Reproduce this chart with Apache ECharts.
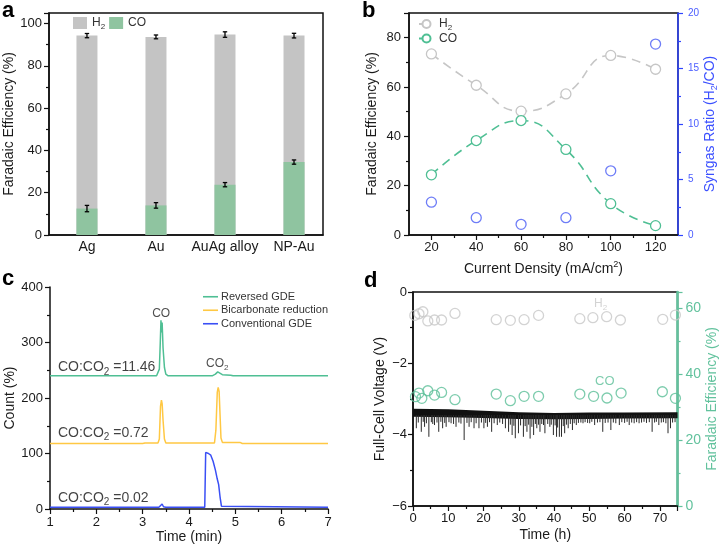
<!DOCTYPE html>
<html><head><meta charset="utf-8">
<script src="https://cdn.jsdelivr.net/npm/echarts@6/dist/echarts.min.js"></script>
<style>html,body{margin:0;padding:0;background:#fff}#c{width:720px;height:549px}</style>
</head><body><div id="c"></div>
<script>
// ---------- Panel a ----------
const aCategories = ['Ag', 'Au', 'AuAg alloy', 'NP-Au'];
const aCO = [12.5, 14.0, 23.8, 34.5];
const aH2 = [81.8, 79.7, 71.0, 59.8];
const aCOErr = [1.5, 1.3, 1.0, 1.0];
const aTotalErr = [1.0, 0.9, 1.3, 1.1];
const aYTicks = [0, 20, 40, 60, 80, 100];
// ---------- Panel b ----------
const bCurrent = [20, 40, 60, 80, 100, 120];
const bH2 = [73.4, 60.7, 50.2, 57.2, 72.8, 67.2];
const bCO = [24.4, 38.3, 46.4, 34.7, 12.7, 3.8];
const bRatio = [2.96, 1.56, 0.96, 1.56, 5.78, 17.2];
const bXTicks = [20, 40, 60, 80, 100, 120];
const bXMinorTicks = [30, 50, 70, 90, 110];
const bYTicks = [0, 20, 40, 60, 80];
// ---------- Panel c ----------
const cReversed = [[1,240],[3.3,240],[3.34,241],[3.36,252],[3.38,300],[3.395,340],[3.41,318],[3.42,336],[3.44,290],[3.47,255],[3.5,243],[3.55,240],[4.5,240],[4.57,243],[4.62,247],[4.66,245],[4.72,242],[4.9,241],[4.95,240],[7,240]];
const cBicarb = [[1,118],[3.0,118],[3.05,119],[3.33,119],[3.36,126],[3.385,185],[3.405,196],[3.42,190],[3.44,160],[3.47,126],[3.5,119],[4.55,119],[4.58,142],[4.61,210],[4.63,219],[4.65,212],[4.67,170],[4.69,128],[4.72,120],[5.1,120],[5.15,118],[7,118]];
const cConventional = [[1,3],[3.35,3],[3.39,5],[3.42,9],[3.45,4],[3.5,3],[4.34,3],[4.36,102],[4.42,100],[4.47,97],[4.52,86],[4.57,70],[4.61,54],[4.64,44],[4.67,22],[4.7,5],[4.73,3],[7,3]];
const cAnnotations = [
  {t: 3.4, y: 352, text: '{m|CO}', align: 'center'},
  {t: 4.61, y: 261, text: '{m|CO}{ms|2}', align: 'center'},
  {t: 1.17, y: 255, text: '{r|CO:CO}{rs|2}{r| =11.46}', align: 'left'},
  {t: 1.17, y: 137, text: '{r|CO:CO}{rs|2}{r| =0.72}', align: 'left'},
  {t: 1.17, y: 20, text: '{r|CO:CO}{rs|2}{r| =0.02}', align: 'left'}
];
// ---------- Panel d ----------
const dBandUpper = [[0,-3.27],[10,-3.29],[20,-3.33],[30,-3.37],[40,-3.39],[50,-3.38],[60,-3.38],[75,-3.37]];
const dBandLower = [[0,-3.50],[10,-3.51],[20,-3.53],[30,-3.56],[40,-3.57],[50,-3.56],[60,-3.55],[75,-3.54]];
const dSpikes = [[0.94,-3.82],[1.5,-3.66],[2.35,-3.92],[2.9,-3.64],[3.28,-3.78],[3.8,-3.68],[4.5,-4.06],[5.2,-3.65],[5.6,-3.70],[6.1,-3.73],[6.8,-3.66],[7.3,-3.92],[7.9,-3.64],[8.4,-3.82],[9.0,-3.67],[9.4,-3.78],[10.2,-3.65],[10.8,-3.68],[11.5,-3.70],[12.2,-3.78],[13.0,-3.66],[13.6,-3.69],[14.5,-4.15],[15.3,-3.67],[15.9,-3.78],[16.5,-3.65],[17.3,-3.82],[17.9,-3.68],[18.7,-3.82],[19.4,-3.66],[20.1,-3.82],[20.6,-3.67],[21.1,-3.78],[21.7,-3.65],[22.3,-3.92],[23.0,-3.68],[23.9,-3.73],[24.6,-3.66],[25.4,-3.70],[26.2,-3.82],[27.1,-3.92],[27.6,-3.72],[28.1,-4.01],[28.6,-3.75],[29.0,-4.10],[29.9,-3.96],[30.5,-3.74],[31.3,-4.06],[31.8,-3.76],[32.3,-3.92],[32.8,-3.72],[33.2,-4.11],[33.7,-3.78],[34.2,-4.01],[34.7,-3.70],[35.1,-3.82],[35.6,-3.72],[36.0,-3.92],[36.5,-3.70],[37.0,-3.73],[37.4,-3.96],[38.2,-3.70],[38.8,-3.78],[39.2,-3.72],[39.8,-4.01],[40.3,-3.74],[40.7,-4.06],[41.0,-3.80],[41.5,-4.06],[42.1,-4.06],[42.6,-3.76],[43.0,-3.96],[43.5,-3.72],[44.0,-3.82],[44.6,-3.70],[45.2,-3.87],[45.7,-3.68],[46.3,-3.73],[46.9,-3.67],[47.6,-3.66],[48.2,-3.68],[48.8,-3.65],[49.5,-3.67],[50.1,-3.68],[50.7,-3.64],[51.5,-3.73],[52.3,-3.66],[53.0,-3.65],[53.8,-3.92],[54.5,-3.67],[55.3,-3.66],[56.1,-3.87],[56.8,-3.66],[57.5,-3.68],[58.5,-3.73],[59.2,-3.65],[60.0,-3.67],[60.7,-3.64],[61.3,-3.73],[62.0,-3.66],[62.7,-3.68],[63.4,-3.65],[64.1,-3.68],[64.8,-3.66],[65.5,-3.64],[66.2,-3.67],[67.0,-3.65],[67.8,-3.92],[68.5,-3.66],[69.0,-3.64],[69.7,-3.73],[70.4,-3.66],[71.0,-3.65],[71.7,-3.68],[72.3,-3.96],[73.0,-3.82],[73.6,-3.66],[74.3,-3.65]];
const dH2FE = [[0.5,57.9],[1.7,58.4],[2.8,59.0],[4.2,56.2],[6.1,56.5],[8.1,56.5],[11.9,58.5],[23.6,56.6],[27.6,56.4],[31.5,56.6],[35.6,57.9],[47.3,56.9],[51.0,57.2],[54.9,57.5],[58.8,56.5],[70.8,56.7],[74.4,58.0]];
const dCOFE = [[0.7,33.2],[1.7,34.3],[2.5,32.7],[4.2,35.0],[6.1,33.7],[8.1,34.5],[11.9,32.3],[23.6,34.0],[27.6,32.0],[31.5,33.3],[35.6,33.3],[47.3,34.0],[51.2,33.3],[55.0,32.8],[59.0,34.3],[70.7,34.7],[74.4,32.7]];
const dXTicks = [0, 10, 20, 30, 40, 50, 60, 70];
const dYRightTicks = [0, 20, 40, 60];
const dAnnotations = [
  {t: 53.2, y: 61.3, text: '{g|H}{gs|2}'},
  {t: 54.4, y: 37.8, text: '{c|CO}'}
];

// ---------- styles ----------
const FONT = 'Liberation Sans, Arial, Helvetica, sans-serif';
const TXT = '#1a1a1a';
const GRAY = '#c4c4c4';
const GREENBAR = '#8fc4a0';
const GREEN = '#4fbf94';
const YELLOW = '#ffc843';
const BLUE = '#3a4ff5';
const BBLUE = '#2f45ff';
const DGREEN = '#62c29d';

function nameRich(size) {
  return {
    t: {fontSize: size, fontFamily: FONT},
    s: {fontSize: size * 0.65, fontFamily: FONT, padding: [9, 0, 0, 0]},
    p: {fontSize: size * 0.65, fontFamily: FONT, padding: [0, 0, 9, 0]}
  };
}
function valAxis(o) {
  const base = {
    type: 'value',
    splitLine: {show: false},
    axisLine: {show: true, onZero: false, lineStyle: {color: '#111', width: 1.5}},
    axisTick: {show: true, length: 5, lineStyle: {color: '#111', width: 1.2}},
    minorTick: {show: true, splitNumber: 2, length: 3, lineStyle: {color: '#111', width: 1.2}},
    axisLabel: {color: TXT, fontSize: 13, fontFamily: FONT},
    nameTextStyle: {color: TXT, fontSize: 14, fontFamily: FONT}
  };
  return Object.assign(base, o);
}

const chart = echarts.init(document.getElementById('c'), null, {renderer: 'canvas'});

const aTotal = aCO.map((v, i) => v + aH2[i]);
const errData = [];
aCategories.forEach((c, i) => {
  errData.push([i + 1, aCO[i], aCOErr[i]]);
  errData.push([i + 1, aTotal[i], aTotalErr[i]]);
});

function errRender(params, api) {
  const x = api.value(0), y = api.value(1), e = api.value(2);
  const p1 = api.coord([x, y + e]);
  const p2 = api.coord([x, y - e]);
  const w = 2.2;
  const st = {stroke: '#000', lineWidth: 1.3};
  return {type: 'group', children: [
    {type: 'line', shape: {x1: p1[0], y1: p1[1], x2: p2[0], y2: p2[1]}, style: st},
    {type: 'line', shape: {x1: p1[0] - w, y1: p1[1], x2: p1[0] + w, y2: p1[1]}, style: st},
    {type: 'line', shape: {x1: p2[0] - w, y1: p2[1], x2: p2[0] + w, y2: p2[1]}, style: st}
  ]};
}

function voltRender(params, api) {
  const pts = [];
  dBandUpper.forEach(p => pts.push(api.coord(p)));
  for (let i = dBandLower.length - 1; i >= 0; i--) pts.push(api.coord(dBandLower[i]));
  const children = [{type: 'polygon', shape: {points: pts}, style: {fill: '#111'}}];
  dSpikes.forEach(s => {
    const a = api.coord([s[0], -3.45]);
    const b = api.coord(s);
    children.push({type: 'line', shape: {x1: a[0], y1: a[1], x2: b[0], y2: b[1]}, style: {stroke: '#2a2a2a', lineWidth: 1}});
  });
  return {type: 'group', children: children};
}

const legendRich = {t: {fontSize: 12, fontFamily: FONT, color: '#333'}, s: {fontSize: 8, fontFamily: FONT, color: '#333', padding: [7, 0, 0, 0]}};

const option = {
  animation: false,
  backgroundColor: '#fff',
  textStyle: {fontFamily: FONT},
  grid: [
    {left: 49, top: 13, width: 274, height: 222, show: true, borderColor: '#111', borderWidth: 1.5},
    {left: 409, top: 13, width: 274, height: 222, show: true, borderColor: '#111', borderWidth: 1.5},
    {left: 50, top: 287, width: 278, height: 222},
    {left: 413, top: 292, width: 266, height: 214, show: true, borderColor: '#111', borderWidth: 1.5}
  ],
  legend: [
    {
      left: 73, top: 17, padding: 0, itemWidth: 14, itemHeight: 12, itemGap: 4, icon: 'rect',
      data: ['aH2', 'aCO'], selectedMode: false,
      formatter: n => n === 'aH2' ? '{t|H}{s|2}' : '{t|CO}',
      textStyle: {color: '#333', fontSize: 12, fontFamily: FONT, rich: legendRich}
    },
    {
      left: 418, top: 18, padding: 0, orient: 'vertical', itemWidth: 15, itemHeight: 10, itemGap: 1,
      data: ['bH2', 'bCO'], selectedMode: false,
      formatter: n => n === 'bH2' ? '{t|H}{s|2}' : '{t|CO}',
      textStyle: {color: '#333', fontSize: 12, fontFamily: FONT, rich: legendRich}
    },
    {
      left: 203, top: 290, padding: 0, orient: 'vertical', itemWidth: 15, itemHeight: 1.6, itemGap: 0,
      icon: 'rect',
      data: ['Reversed GDE', 'Bicarbonate reduction', 'Conventional GDE'], selectedMode: false,
      textStyle: {color: '#333', fontSize: 11, fontFamily: FONT, padding: [0, 0, 0, -2], lineHeight: 13.5}
    }
  ],
  xAxis: [
    valAxis({gridIndex: 0, min: 0.45, max: 4.42,
      axisTick: {show: false}, minorTick: {show: false},
      axisLabel: {color: TXT, fontSize: 14, fontFamily: FONT, margin: 5, customValues: [1, 2, 3, 4],
        formatter: v => aCategories[Math.round(v) - 1] || ''}}),
    valAxis({gridIndex: 1, min: 10, max: 130, position: 'bottom',
      minorTick: {show: false},
      axisTick: {show: true, length: 5, customValues: bXTicks, lineStyle: {color: '#111', width: 1.2}},
      axisLabel: {color: TXT, fontSize: 13, fontFamily: FONT, margin: 6, customValues: bXTicks},
      name: '{t|Current Density (mA/cm}{p|2}{t|)}', nameLocation: 'middle', nameGap: 25,
      nameTextStyle: {color: TXT, fontSize: 14, fontFamily: FONT, rich: nameRich(14)}}),
    valAxis({gridIndex: 1, min: 10, max: 130, position: 'bottom',
      axisLine: {show: false}, minorTick: {show: false}, axisLabel: {show: false},
      axisTick: {show: true, length: 3, customValues: bXMinorTicks, lineStyle: {color: '#111', width: 1.2}}}),
    valAxis({gridIndex: 2, min: 1, max: 7, interval: 1,
      axisLabel: {color: TXT, fontSize: 13, fontFamily: FONT, margin: 7},
      name: 'Time (min)', nameLocation: 'middle', nameGap: 21}),
    valAxis({gridIndex: 3, min: 0, max: 75, interval: 10,
      axisLabel: {color: TXT, fontSize: 13, fontFamily: FONT, margin: 6, customValues: dXTicks},
      name: 'Time (h)', nameLocation: 'middle', nameGap: 22})
  ],
  yAxis: [
    valAxis({gridIndex: 0, min: 0, max: 105, interval: 20,
      axisLabel: {color: TXT, fontSize: 13, fontFamily: FONT, margin: 7, customValues: aYTicks},
      name: 'Faradaic Efficiency (%)', nameLocation: 'middle', nameGap: 29}),
    valAxis({gridIndex: 1, min: 0, max: 90, interval: 20,
      axisLabel: {color: TXT, fontSize: 13, fontFamily: FONT, margin: 8, customValues: bYTicks},
      name: 'Faradaic Efficiency (%)', nameLocation: 'middle', nameGap: 30}),
    valAxis({gridIndex: 1, min: 0, max: 20, interval: 5, position: 'right',
      axisLine: {show: true, onZero: false, lineStyle: {color: BBLUE, width: 1.5}},
      axisTick: {show: true, length: 5, lineStyle: {color: BBLUE, width: 1.2}},
      minorTick: {show: true, splitNumber: 2, length: 3, lineStyle: {color: BBLUE, width: 1.2}},
      axisLabel: {color: '#4a5cff', fontSize: 10, fontFamily: FONT, margin: 10},
      name: '{t|Syngas Ratio (H}{s|2}{t|/CO)}', nameLocation: 'middle', nameGap: 16,
      nameTextStyle: {color: '#3b50ff', fontSize: 14, fontFamily: FONT, rich: nameRich(14)}}),
    valAxis({gridIndex: 2, min: 0, max: 400, interval: 100,
      axisLabel: {color: TXT, fontSize: 13, fontFamily: FONT, margin: 7},
      name: 'Count (%)', nameLocation: 'middle', nameGap: 31}),
    valAxis({gridIndex: 3, min: -6, max: 0, interval: 2,
      axisLabel: {color: TXT, fontSize: 13, fontFamily: FONT, margin: 6,
        formatter: v => String(v).replace('-', '\u2212')},
      name: 'Full-Cell Voltage (V)', nameLocation: 'middle', nameGap: 26}),
    valAxis({gridIndex: 3, min: 0, max: 65, interval: 20, position: 'right',
      axisLine: {show: true, onZero: false, lineStyle: {color: DGREEN, width: 2.5}},
      axisTick: {show: true, length: 5, lineStyle: {color: DGREEN, width: 1.2}},
      minorTick: {show: true, splitNumber: 2, length: 3, lineStyle: {color: DGREEN, width: 1.2}},
      axisLabel: {color: DGREEN, fontSize: 14, fontFamily: FONT, margin: 8, customValues: dYRightTicks},
      name: 'Faradaic Efficiency (%)', nameLocation: 'middle', nameGap: 20,
      nameTextStyle: {color: DGREEN, fontSize: 14, fontFamily: FONT}})
  ],
  series: [
    // panel a
    {name: 'aH2', type: 'bar', xAxisIndex: 0, yAxisIndex: 0, barWidth: 21, barGap: '-100%',
      itemStyle: {color: GRAY}, data: aTotal.map((v, i) => [i + 1, v])},
    {name: 'aCO', type: 'bar', xAxisIndex: 0, yAxisIndex: 0, barWidth: 21, barGap: '-100%',
      itemStyle: {color: GREENBAR}, data: aCO.map((v, i) => [i + 1, v])},
    {name: 'aErr', type: 'custom', xAxisIndex: 0, yAxisIndex: 0, renderItem: errRender,
      encode: {x: 0, y: 1}, data: errData, z: 10},
    // panel b
    {name: 'bH2', type: 'line', xAxisIndex: 1, yAxisIndex: 1, smooth: 0.5,
      symbol: 'circle', symbolSize: 10,
      itemStyle: {color: '#fff', borderColor: '#c6c6c6', borderWidth: 1.3},
      lineStyle: {color: '#c6c6c6', width: 1.6, type: [9, 6]},
      data: bCurrent.map((x, i) => [x, bH2[i]])},
    {name: 'bCO', type: 'line', xAxisIndex: 1, yAxisIndex: 1, smooth: 0.5,
      symbol: 'circle', symbolSize: 10,
      itemStyle: {color: '#fff', borderColor: GREEN, borderWidth: 1.3},
      lineStyle: {color: GREEN, width: 1.6, type: [9, 6]},
      data: bCurrent.map((x, i) => [x, bCO[i]])},
    {name: 'bRatio', type: 'scatter', xAxisIndex: 1, yAxisIndex: 2, symbol: 'circle', symbolSize: 10,
      itemStyle: {color: 'rgba(0,0,0,0)', borderColor: '#4a5cf5', borderWidth: 1.3},
      data: bCurrent.map((x, i) => [x, bRatio[i]])},
    // panel c
    {name: 'Reversed GDE', type: 'line', xAxisIndex: 3, yAxisIndex: 3, symbol: 'none',
      lineStyle: {color: GREEN, width: 1.5}, itemStyle: {color: GREEN}, data: cReversed},
    {name: 'Bicarbonate reduction', type: 'line', xAxisIndex: 3, yAxisIndex: 3, symbol: 'none',
      lineStyle: {color: YELLOW, width: 1.5}, itemStyle: {color: YELLOW}, data: cBicarb},
    {name: 'Conventional GDE', type: 'line', xAxisIndex: 3, yAxisIndex: 3, symbol: 'none',
      lineStyle: {color: BLUE, width: 1.5}, itemStyle: {color: BLUE}, data: cConventional},
    {name: 'cAnn', type: 'scatter', xAxisIndex: 3, yAxisIndex: 3, symbolSize: 0, silent: true,
      data: cAnnotations.map(a => ({value: [a.t, a.y], name: a.text,
        label: {position: a.align === 'left' ? 'right' : 'inside', distance: 0}})),
      label: {show: true, formatter: p => p.name, color: TXT,
        rich: {
          m: {fontSize: 12, fontFamily: FONT, color: '#222'},
          ms: {fontSize: 8, fontFamily: FONT, color: '#222', padding: [7, 0, 0, 0]},
          r: {fontSize: 14, fontFamily: FONT, color: '#111'},
          rs: {fontSize: 10, fontFamily: FONT, color: '#111', padding: [9, 0, 0, 0]}
        }}},
    // panel d
    {name: 'dVolt', type: 'custom', xAxisIndex: 4, yAxisIndex: 4, renderItem: voltRender,
      encode: {x: 0, y: 1}, data: [[37.5, -3.45]], clip: true, silent: true},
    {name: 'dH2', type: 'scatter', xAxisIndex: 4, yAxisIndex: 5, symbol: 'circle', symbolSize: 10,
      itemStyle: {color: 'rgba(0,0,0,0)', borderColor: '#c8c8c8', borderWidth: 1.3}, data: dH2FE},
    {name: 'dCO', type: 'scatter', xAxisIndex: 4, yAxisIndex: 5, symbol: 'circle', symbolSize: 10,
      itemStyle: {color: 'rgba(0,0,0,0)', borderColor: '#5cbf98', borderWidth: 1.3}, data: dCOFE},
    {name: 'dAnn', type: 'scatter', xAxisIndex: 4, yAxisIndex: 5, symbolSize: 0, silent: true,
      data: dAnnotations.map(a => ({value: [a.t, a.y], name: a.text})),
      label: {show: true, position: 'inside', formatter: p => p.name,
        rich: {
          g: {fontSize: 12, fontFamily: FONT, color: '#c8c8c8'},
          gs: {fontSize: 8, fontFamily: FONT, color: '#c8c8c8', padding: [7, 0, 0, 0]},
          c: {fontSize: 13, fontFamily: FONT, color: '#5cbf98'}
        }}}
  ],
  graphic: [
    {type: 'text', left: 2, top: 0, style: {text: 'a', font: 'bold 22px ' + FONT, fill: '#000'}},
    {type: 'text', left: 362, top: 0, style: {text: 'b', font: 'bold 22px ' + FONT, fill: '#000'}},
    {type: 'text', left: 2, top: 268, style: {text: 'c', font: 'bold 22px ' + FONT, fill: '#000'}},
    {type: 'text', left: 364, top: 270, style: {text: 'd', font: 'bold 22px ' + FONT, fill: '#000'}}
  ]
};
chart.setOption(option);
</script>
</body></html>
